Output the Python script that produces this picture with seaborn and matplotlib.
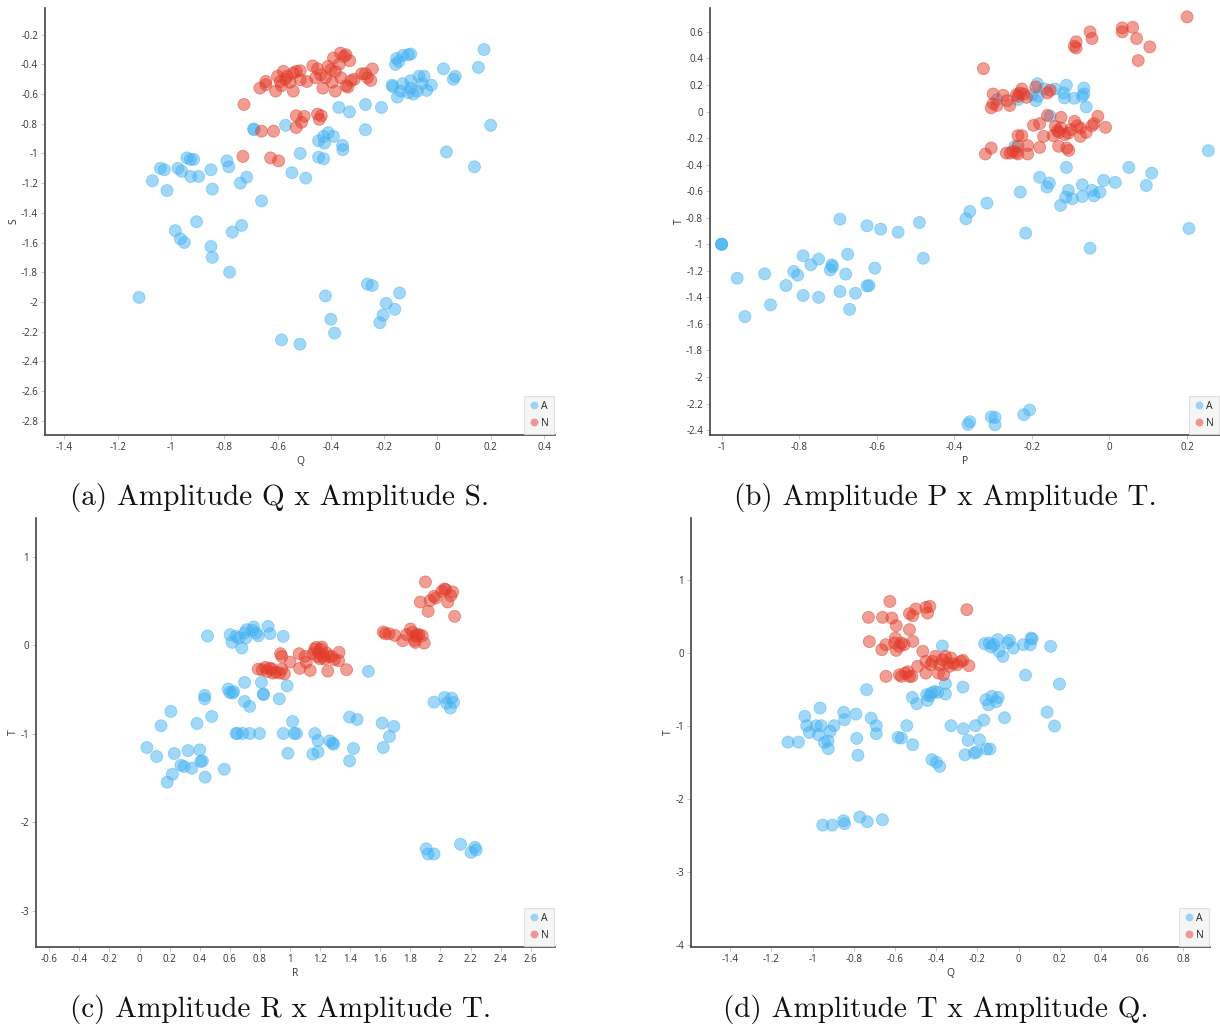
import numpy as np
import pandas as pd
import matplotlib
matplotlib.use("Agg")
import matplotlib.pyplot as plt
import seaborn as sns
from matplotlib.ticker import FixedLocator, FuncFormatter

# ---------------- data ----------------
# (a) Amplitude Q x Amplitude S
qs_A_Q = [0.175, 0.154, 0.200, 0.023, 0.06, 0.067, 0.034, 0.139,
          -0.153, -0.145, -0.13, -0.109, -0.10, -0.157, -0.17, -0.167, -0.13, -0.138, -0.15,
          -0.10, -0.10, -0.109, -0.09, -0.075, -0.069, -0.05, -0.057, -0.04, -0.023,
          -0.27, -0.21, -0.37, -0.33, -0.27,
          -0.41, -0.427, -0.446, -0.424, -0.39, -0.356, -0.355, -0.446, -0.427,
          -0.515, -0.57, -0.69, -0.688, -0.546, -0.494,
          -0.79, -0.783, -0.85, -0.845, -0.74, -0.716, -0.66,
          -0.94, -0.915, -0.927, -0.974, -0.96, -1.04, -1.025, -0.926, -0.896, -1.07, -1.015,
          -0.984, -0.965, -0.95, -0.904, -0.85, -0.845, -0.77, -0.735, -0.78,
          -1.12,
          -0.585, -0.516, -0.42, -0.40, -0.386, -0.263, -0.245, -0.142, -0.192, -0.204, -0.16, -0.216]
qs_A_S = [-0.30, -0.42, -0.81, -0.43, -0.50, -0.48, -0.99, -1.09,
          -0.36, -0.38, -0.34, -0.335, -0.33, -0.40, -0.54, -0.55, -0.53, -0.58, -0.62,
          -0.51, -0.56, -0.59, -0.60, -0.58, -0.48, -0.48, -0.53, -0.575, -0.54,
          -0.67, -0.69, -0.69, -0.72, -0.84,
          -0.86, -0.885, -0.915, -0.93, -0.885, -0.946, -0.975, -1.025, -1.036,
          -1.0, -0.81, -0.835, -0.84, -1.13, -1.166,
          -1.05, -1.09, -1.11, -1.24, -1.2, -1.16, -1.32,
          -1.03, -1.04, -1.04, -1.10, -1.12, -1.10, -1.11, -1.155, -1.155, -1.184, -1.25,
          -1.52, -1.575, -1.60, -1.46, -1.627, -1.70, -1.53, -1.485, -1.80,
          -1.97,
          -2.256, -2.285, -1.96, -2.117, -2.21, -1.88, -1.89, -1.94, -2.01, -2.09, -2.05, -2.14]
qs_N_Q = [-0.726, -0.73, -0.66, -0.615, -0.626, -0.596, -0.53, -0.50, -0.51, -0.53, -0.45, -0.436, -0.443,
          -0.666, -0.644, -0.644, -0.607, -0.60, -0.59, -0.585, -0.578, -0.57, -0.564, -0.553, -0.541,
          -0.541, -0.53, -0.515, -0.515, -0.49, -0.468, -0.457, -0.45, -0.438, -0.43, -0.42, -0.41,
          -0.40, -0.395, -0.39, -0.383, -0.383, -0.368, -0.364, -0.362, -0.35, -0.343, -0.343, -0.336,
          -0.329, -0.324, -0.312, -0.284, -0.27, -0.263, -0.25, -0.244]
qs_N_S = [-0.67, -1.02, -0.85, -0.85, -1.03, -1.05, -0.746, -0.75, -0.79, -0.825, -0.735, -0.746, -0.77,
          -0.56, -0.515, -0.537, -0.58, -0.48, -0.515, -0.544, -0.447, -0.50, -0.48, -0.52, -0.58,
          -0.458, -0.447, -0.443, -0.503, -0.515, -0.41, -0.49, -0.43, -0.47, -0.56, -0.49, -0.413,
          -0.436, -0.52, -0.357, -0.58, -0.447, -0.398, -0.324, -0.49, -0.346, -0.335, -0.544, -0.553,
          -0.375, -0.51, -0.50, -0.463, -0.463, -0.49, -0.508, -0.43]

# (b) Amplitude P x Amplitude T
pt_A_P = [-1.0, -1.0, -1.0, -0.96, -0.94, -0.889, -0.874, -0.834, -0.814, -0.804, -0.79, -0.79, -0.77,
          -0.75, -0.75, -0.72, -0.716, -0.714, -0.695, -0.695, -0.68, -0.675, -0.67, -0.655, -0.625,
          -0.62, -0.605, -0.625, -0.59, -0.545, -0.49, -0.48, -0.37, -0.36, -0.316, -0.23, -0.216,
          -0.18, -0.161, -0.155, -0.111, -0.106, -0.113, -0.096, -0.126, -0.07, -0.07, -0.045, -0.04,
          -0.025, -0.015, -0.05, 0.015, 0.05, 0.095, 0.109, 0.205, 0.255,
          -0.365, -0.36, -0.305, -0.295, -0.295, -0.221, -0.206,
          -0.244, -0.236, -0.199, -0.186, -0.19, -0.184, -0.168, -0.153, -0.14, -0.118, -0.116, -0.111,
          -0.091, -0.07, -0.066, -0.066, -0.06, -0.29]
pt_A_T = [-1.0, -1.0, -1.0, -1.256, -1.545, -1.223, -1.457, -1.311, -1.205, -1.233, -1.087, -1.386, -1.155,
          -1.112, -1.40, -1.193, -1.155, -1.168, -1.356, -0.811, -1.225, -1.075, -1.49, -1.369, -1.314,
          -1.311, -1.18, -0.861, -0.886, -0.909, -0.836, -1.105, -0.808, -0.753, -0.69, -0.607, -0.916,
          -0.496, -0.569, -0.539, -0.421, -0.594, -0.645, -0.657, -0.707, -0.552, -0.64, -0.594, -0.635,
          -0.607, -0.519, -1.03, -0.534, -0.421, -0.557, -0.464, -0.881, -0.295,
          -2.357, -2.337, -2.30, -2.305, -2.36, -2.284, -2.249,
          -0.262, 0.09, 0.127, 0.21, 0.082, 0.115, 0.17, -0.035, 0.17, 0.14, 0.102, 0.198,
          0.10, 0.115, 0.177, 0.132, 0.035, 0.09]
pt_N_P = [-0.325, -0.30, -0.274, -0.305, -0.30, -0.29, -0.264, -0.257, -0.24, -0.236, -0.231, -0.226,
          -0.221, -0.214, -0.19, -0.16, -0.153,
          -0.196, -0.18, -0.16, -0.125, -0.17, -0.145, -0.14, -0.134, -0.13, -0.125, -0.115, -0.106,
          -0.10, -0.09, -0.083, -0.075, -0.075, -0.06, -0.045, -0.04, -0.03, -0.01, -0.131, -0.11,
          -0.105, -0.18, -0.236, -0.226, -0.211, -0.211, -0.236, -0.236, -0.24, -0.249, -0.256, -0.266,
          -0.305, -0.32,
          -0.05, -0.045, -0.091, -0.086, -0.086, 0.033, 0.033, 0.06, 0.07, 0.104, 0.074, 0.20]
pt_N_T = [0.323, 0.132, 0.122, 0.028, 0.058, 0.046, 0.082, 0.046, 0.127, 0.115, 0.14, 0.17,
          0.132, 0.107, 0.185, 0.14, 0.16,
          -0.104, -0.091, -0.029, -0.044, -0.187, -0.182, -0.112, -0.144, -0.157, -0.124, -0.174, -0.162,
          -0.137, -0.074, -0.107, -0.124, -0.187, -0.157, -0.107, -0.091, -0.036, -0.119, -0.262, -0.275,
          -0.293, -0.27, -0.182, -0.182, -0.257, -0.32, -0.262, -0.32, -0.308, -0.30, -0.313, -0.313,
          -0.275, -0.32,
          0.60, 0.55, 0.492, 0.525, 0.479, 0.63, 0.60, 0.635, 0.55, 0.487, 0.384, 0.713]

# (c) Amplitude R x Amplitude T
rt_A_R = [0.049, 0.114, 0.143, 0.208, 0.184, 0.218, 0.231, 0.275, 0.296, 0.322, 0.348, 0.382, 0.40,
          0.407, 0.418, 0.433, 0.433, 0.436, 0.452, 0.48, 0.563, 0.589, 0.60, 0.625, 0.618, 0.602,
          0.615, 0.64, 0.641, 0.651, 0.659, 0.68, 0.685, 0.698, 0.698, 0.706, 0.698, 0.711, 0.732,
          0.732, 0.75, 0.758, 0.776, 0.789, 0.797, 0.81, 0.823, 0.824, 0.854, 0.867, 0.929, 0.955,
          0.955, 0.981, 0.986, 1.017, 1.028, 1.043, 1.165, 1.186, 1.152, 1.186, 1.264, 1.282, 1.29,
          1.396, 1.446, 1.396, 1.422, 1.521, 1.612, 1.62, 1.661, 1.69,
          1.957, 2.027, 2.04, 2.074, 2.087, 2.066,
          1.905, 1.918, 1.957, 2.133, 2.203, 2.229, 2.237]
rt_A_T = [-1.155, -1.257, -0.909, -0.747, -1.547, -1.457, -1.223, -1.355, -1.37, -1.189, -1.389, -0.883, -1.181,
          -1.313, -1.306, -0.566, -0.604, -1.49, 0.106, -0.804, -1.40, -0.494, -0.532, -0.521, -0.54, 0.121,
          0.034, 0.102, -0.996, -0.996, 0.083, -0.03, -0.996, -0.419, -0.634, 0.083, 0.14, 0.177, -0.69,
          -0.996, 0.17, 0.208, 0.14, 0.109, -0.996, -0.419, -0.551, -0.556, 0.215, 0.132, -0.604, 0.102,
          -0.996, -0.457, -1.219, -0.86, -0.996, -0.996, -0.996, -1.075, -1.23, -1.204, -1.079, -1.106, -1.117,
          -0.811, -0.838, -1.306, -1.166, -0.294, -0.879, -1.155, -1.03, -0.917,
          -0.642, -0.589, -0.653, -0.596, -0.645, -0.709,
          -2.30, -2.358, -2.358, -2.249, -2.34, -2.283, -2.313]
rt_N_R = [0.789, 0.815, 0.836, 0.849, 0.867, 0.88, 0.885, 0.906, 0.932, 0.945, 0.963, 0.945, 0.937,
          1.0, 1.061, 1.064, 1.10, 1.108, 1.134, 1.152, 1.165, 1.173, 1.183, 1.191, 1.199, 1.204, 1.212,
          1.22, 1.23, 1.243, 1.256, 1.251, 1.277, 1.295, 1.326, 1.324, 1.376,
          1.62, 1.633, 1.658, 1.697, 1.749, 1.775, 1.801, 1.814, 1.827, 1.835, 1.845, 1.858, 1.879, 1.892, 1.832,
          1.90, 1.866, 1.918, 1.931, 1.957, 1.97, 2.009, 2.027, 2.035, 2.048, 2.069, 2.081, 2.094]
rt_N_T = [-0.268, -0.275, -0.249, -0.294, -0.257, -0.268, -0.313, -0.302, -0.313, -0.268, -0.321, -0.125, -0.094,
          -0.189, -0.094, -0.26, -0.125, -0.192, -0.283, -0.094, -0.042, -0.023, -0.125, -0.079, -0.151, -0.042, -0.019,
          -0.125, -0.155, -0.087, -0.125, -0.291, -0.125, -0.162, -0.079, -0.174, -0.275,
          0.151, 0.132, 0.132, 0.113, 0.053, 0.121, 0.185, 0.147, 0.057, 0.102, 0.121, 0.121, 0.109, 0.026, 0.034,
          0.717, 0.49, 0.385, 0.506, 0.555, 0.536, 0.611, 0.638, 0.63, 0.49, 0.562, 0.604, 0.328]

# (d) Amplitude T x Amplitude Q  (x = Q, y = T)
qt_A_Q = [-1.12, -1.069, -1.038, -1.029, -1.016, -0.983, -0.972, -0.964, -0.959, -0.943, -0.926, -0.924,
          -0.915, -0.896, -0.849, -0.845, -0.79, -0.786, -0.78, -0.738, -0.716, -0.691, -0.691, -0.585,
          -0.569, -0.543, -0.514, -0.516, -0.494, -0.446, -0.442, -0.431, -0.423, -0.408, -0.393, -0.355,
          -0.355, -0.37, -0.421, -0.399, -0.383, -0.328, -0.27, -0.268, -0.26, -0.245, -0.215, -0.203,
          -0.209, -0.19, -0.169, -0.156, -0.139, -0.158, -0.146, -0.129, -0.108, -0.099, -0.068,
          -0.165, -0.142, -0.133, -0.12, -0.101, -0.095, -0.076, -0.053, -0.044, -0.025, 0.023, 0.061,
          0.066, 0.057, 0.156, 0.034, 0.199, 0.139, 0.175,
          -0.951, -0.905, -0.85, -0.845, -0.771, -0.735, -0.661]
qt_A_T = [-1.22, -1.22, -0.866, -0.994, -1.086, -0.994, -1.118, -0.752, -0.994, -1.225, -1.202, -1.31,
          -1.072, -0.994, -0.811, -0.912, -0.835, -1.168, -1.40, -0.50, -0.89, -0.994, -1.104, -1.155,
          -1.164, -0.994, -1.255, -0.606, -0.693, -0.569, -0.647, -0.583, -0.547, -0.524, -0.537, -0.418,
          -0.56, 0.10, -1.46, -1.497, -1.552, -0.994, -0.464, -1.036, -1.393, -1.196, -1.37, -1.356,
          -0.994, -1.187, -0.917, -1.314, -1.314, -0.638, -0.707, -0.592, -0.665, -0.606, -0.885,
          0.131, 0.14, 0.085, 0.117, 0.186, 0.026, -0.043, 0.14, 0.177, 0.071, 0.117, 0.209,
          0.195, 0.117, 0.094, -0.30, -0.423, -0.808, -0.999,
          -2.358, -2.358, -2.298, -2.339, -2.247, -2.311, -2.284]
qt_N_Q = [-0.625, -0.729, -0.661, -0.615, -0.594, -0.53, -0.514, -0.499, -0.45, -0.442, -0.431, -0.53, -0.251,
          -0.725, -0.664, -0.645, -0.602, -0.598, -0.594, -0.579, -0.569, -0.556, -0.513,
          -0.644, -0.579, -0.569, -0.55, -0.537, -0.53, -0.518, -0.49, -0.465, -0.45, -0.45, -0.427,
          -0.418, -0.404, -0.389, -0.383, -0.37, -0.364, -0.355, -0.347, -0.336, -0.328, -0.317, -0.298,
          -0.279, -0.27, -0.241]
qt_N_T = [0.711, 0.492, 0.492, 0.483, 0.378, 0.543, 0.515, 0.606, 0.629, 0.551, 0.643, 0.323, 0.597,
          0.159, 0.048, 0.117, 0.14, 0.208, 0.039, 0.094, 0.14, 0.117, 0.163,
          -0.318, -0.295, -0.318, -0.273, -0.254, -0.318, -0.318, -0.18, 0.026, -0.112, -0.273, -0.158,
          -0.112, -0.043, -0.273, -0.158, -0.089, -0.295, -0.043, -0.135, -0.18, -0.066, -0.144, -0.158,
          -0.112, -0.098, -0.171]

classes = ["A", "N"]
captions = ["(a) Amplitude Q x Amplitude S.", "(b) Amplitude P x Amplitude T.",
            "(c) Amplitude R x Amplitude T.", "(d) Amplitude T x Amplitude Q."]

# ---------------- style ----------------
sns.set_theme(style="white")
plt.rcParams['font.family'] = ['Open Sans', 'DejaVu Sans']
palette = {"A": "#44b2f2", "N": "#e33c2a"}


def make_df(xa, ya, xn, yn, xname, yname):
    return pd.DataFrame({
        xname: list(xa) + list(xn),
        yname: list(ya) + list(yn),
        "cls": ["A"] * len(xa) + ["N"] * len(xn),
    })


panels = [
    dict(df=make_df(qs_A_Q, qs_A_S, qs_N_Q, qs_N_S, "Q", "S"), x="Q", y="S",
         pos=[45, 8, 555, 435], xlim=(-1.473, 0.4415), ylim=(-2.897, -0.02),
         xt=np.arange(-1.4, 0.41, 0.2), yt=np.arange(-2.8, -0.19, 0.2)),
    dict(df=make_df(pt_A_P, pt_A_T, pt_N_P, pt_N_T, "P", "T"), x="P", y="T",
         pos=[710, 8, 1220, 435], xlim=(-1.03, 0.285), ylim=(-2.437, 0.78),
         xt=np.arange(-1.0, 0.21, 0.2), yt=np.arange(-2.4, 0.61, 0.2)),
    dict(df=make_df(rt_A_R, rt_A_T, rt_N_R, rt_N_T, "R", "T"), x="R", y="T",
         pos=[36, 518, 555, 947], xlim=(-0.688, 2.761), ylim=(-3.41, 1.44),
         xt=np.arange(-0.6, 2.61, 0.2), yt=np.arange(-3, 1.1, 1)),
    dict(df=make_df(qt_A_Q, qt_A_T, qt_N_Q, qt_N_T, "Q", "T"), x="Q", y="T",
         pos=[691, 518, 1210, 947], xlim=(-1.591, 0.930), ylim=(-4.03, 1.855),
         xt=np.arange(-1.4, 0.81, 0.2), yt=np.arange(-4, 1.1, 1)),
]
cap_pos = [(280, 497), (945, 497), (280, 1009), (936, 1009)]

W, H = 1220, 1024
fig = plt.figure(figsize=(W / 100, H / 100), dpi=100)


def fmt(v, _):
    v = round(v, 6)
    if abs(v) < 1e-9:
        return "0"
    return f"{v:g}"


for p, cap, cp in zip(panels, captions, cap_pos):
    l, t, r, b = p["pos"]
    ax = fig.add_axes([l / W, 1 - b / H, (r - l) / W, (b - t) / H])
    sns.scatterplot(data=p["df"], x=p["x"], y=p["y"], hue="cls", hue_order=classes,
                    palette=palette, s=75, alpha=0.5, linewidth=0.6, ax=ax)
    for coll in ax.collections:
        fc = coll.get_facecolor()
        if len(fc):
            coll.set_edgecolor(fc)
    ax.set_xlim(*p["xlim"])
    ax.set_ylim(*p["ylim"])
    ax.xaxis.set_major_locator(FixedLocator(p["xt"]))
    ax.yaxis.set_major_locator(FixedLocator(p["yt"]))
    ax.xaxis.set_major_formatter(FuncFormatter(fmt))
    ax.yaxis.set_major_formatter(FuncFormatter(fmt))
    ax.tick_params(axis="both", which="major", labelsize=7, length=3, width=0.6,
                   color="#bbbbbb", labelcolor="#333333", direction="out", pad=2,
                   bottom=True, left=True)
    for side in ["top", "right"]:
        ax.spines[side].set_visible(False)
    for side in ["left", "bottom"]:
        ax.spines[side].set_color("#444444")
        ax.spines[side].set_linewidth(1.2)
    ax.set_xlabel(p["x"], fontsize=7.5, color="#333333", labelpad=2)
    ax.set_ylabel(p["y"], fontsize=7.5, color="#333333", labelpad=1)
    ax.set_facecolor("white")
    leg = ax.legend(loc="lower right", fontsize=7.5, frameon=True, markerscale=0.7,
                    handlelength=0.8, handletextpad=0.3, borderpad=0.5, labelspacing=0.55,
                    borderaxespad=0.1, fancybox=False)
    leg.get_frame().set_facecolor("#f3f3f3")
    leg.get_frame().set_edgecolor("#dddddd")
    leg.get_frame().set_linewidth(0.8)
    for h in leg.legend_handles:
        try:
            fc = h.get_facecolor()
            c = fc[0] if np.ndim(fc) > 1 else fc
            h.set_alpha(None)
            h.set_facecolor((c[0], c[1], c[2], 0.6))
            h.set_edgecolor((c[0], c[1], c[2], 1.0))
            h.set_linewidth(0.8)
        except Exception:
            pass
    fig.text(cp[0] / W, 1 - cp[1] / H, cap, ha="center", va="center",
             fontsize=21, family="cmr10", color="#111111")

fig.savefig("out.png", dpi=100)
